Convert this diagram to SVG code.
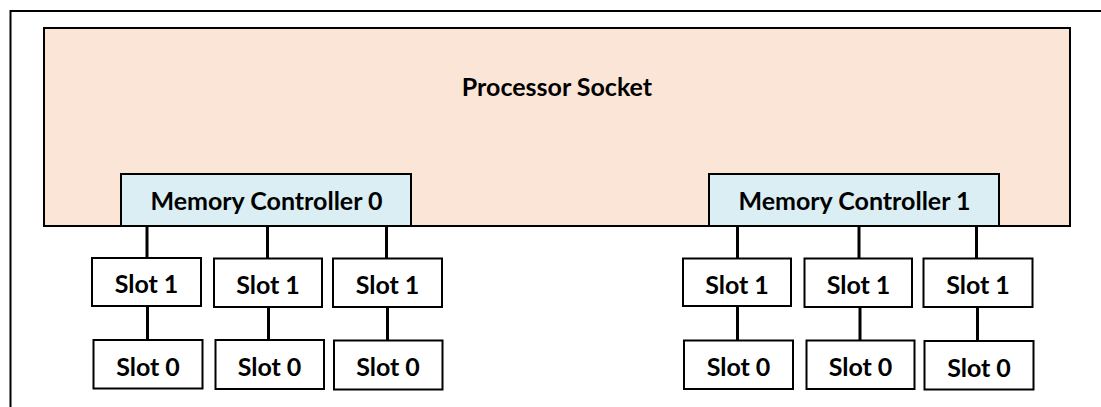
<svg xmlns="http://www.w3.org/2000/svg" width="1101" height="407" viewBox="0 0 1101 407">
<style>
text{font-family:"Lato","Liberation Sans",sans-serif;font-weight:bold;fill:#000;text-anchor:middle}
.box{stroke:#000;stroke-width:2}
.slot{fill:#fff}
.t{font-size:25px}
.conn line{stroke:#000;stroke-width:3}
</style>
<path d="M10.5 407V11H1101" fill="none" stroke="#000" stroke-width="2"/>
<g id="socket">
<rect class="box" x="44" y="28" width="1026" height="198" fill="#FBE5D6"/>
<text class="t" x="557" y="96">Processor Socket</text>
</g>
<g id="mc0">
<rect class="box" x="121" y="174" width="290" height="52" fill="#DAEEF3"/>
<text class="t" x="266.5" y="209.5">Memory Controller 0</text>
</g>
<g id="mc1">
<rect class="box" x="709" y="174" width="290" height="52" fill="#DAEEF3"/>
<text class="t" x="854.5" y="209.5">Memory Controller 1</text>
</g>
<g class="conn" id="connectors">
<line x1="147" y1="226" x2="147" y2="258"/>
<line x1="267.5" y1="226" x2="267.5" y2="258"/>
<line x1="386.5" y1="226" x2="386.5" y2="258"/>
<line x1="147.5" y1="306" x2="147.5" y2="340"/>
<line x1="268.5" y1="307" x2="268.5" y2="340"/>
<line x1="387.5" y1="307" x2="387.5" y2="341"/>
<line x1="737.5" y1="226" x2="737.5" y2="258"/>
<line x1="859" y1="226" x2="859" y2="259"/>
<line x1="976.5" y1="226" x2="976.5" y2="259"/>
<line x1="737.5" y1="306" x2="737.5" y2="340"/>
<line x1="860" y1="307" x2="860" y2="341"/>
<line x1="977.5" y1="307" x2="977.5" y2="341"/>
</g>
<g id="s1a"><rect class="box slot" x="92" y="258" width="109" height="48"/><text class="t" x="146.5" y="293">Slot 1</text></g>
<g id="s1b"><rect class="box slot" x="214" y="258.5" width="108" height="48.5"/><text class="t" x="268" y="294">Slot 1</text></g>
<g id="s1c"><rect class="box slot" x="333" y="258.5" width="109" height="48.5"/><text class="t" x="387.5" y="294">Slot 1</text></g>
<g id="s0a"><rect class="box slot" x="93.5" y="340" width="109" height="48.5"/><text class="t" x="148" y="376">Slot 0</text></g>
<g id="s0b"><rect class="box slot" x="215.5" y="340" width="108.5" height="49"/><text class="t" x="269.5" y="376">Slot 0</text></g>
<g id="s0c"><rect class="box slot" x="334" y="340.5" width="108.5" height="49"/><text class="t" x="388" y="376">Slot 0</text></g>
<g id="s1d"><rect class="box slot" x="683" y="258.5" width="108" height="47.5"/><text class="t" x="737" y="293.5">Slot 1</text></g>
<g id="s1e"><rect class="box slot" x="804.5" y="258.5" width="107.5" height="48.5"/><text class="t" x="858.5" y="294">Slot 1</text></g>
<g id="s1f"><rect class="box slot" x="923.5" y="258.5" width="109" height="48.5"/><text class="t" x="978" y="294">Slot 1</text></g>
<g id="s0d"><rect class="box slot" x="684" y="340.5" width="109" height="48.5"/><text class="t" x="738.5" y="376">Slot 0</text></g>
<g id="s0e"><rect class="box slot" x="806.5" y="340.5" width="108" height="48.5"/><text class="t" x="860.5" y="376">Slot 0</text></g>
<g id="s0f"><rect class="box slot" x="924.5" y="341" width="109" height="48.5"/><text class="t" x="979" y="377">Slot 0</text></g>
</svg>
